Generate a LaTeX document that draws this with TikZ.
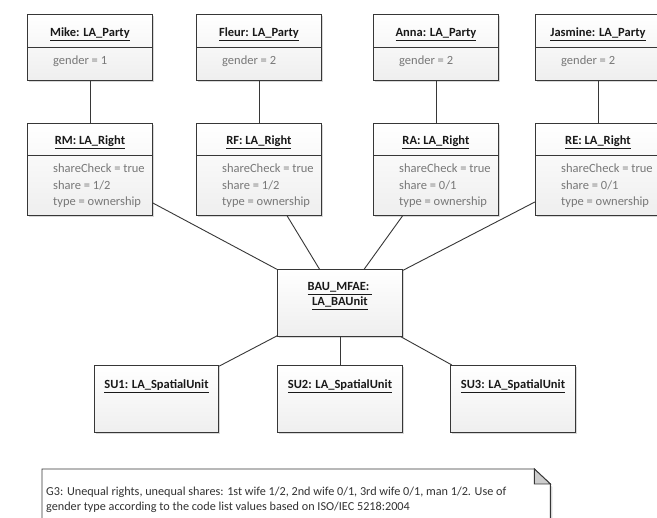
\documentclass[tikz,border=0pt]{standalone}
\usepackage{fontspec}
\setmainfont{Carlito}
\usetikzlibrary{shadows}
\definecolor{boxline}{RGB}{55,55,55}
\definecolor{attrgray}{RGB}{120,120,120}
\definecolor{titleink}{RGB}{25,25,25}
\definecolor{noteink}{RGB}{50,50,50}
\definecolor{foldgray}{RGB}{205,205,205}

\begin{document}
\begin{tikzpicture}[x=1pt,y=-1pt]
        % Define styles for boxes, texts and links
        \tikzstyle{objbox}=[rectangle, draw=boxline, line width=0.9pt, top color=white, bottom color=gray!13, drop shadow={opacity=0.3, shadow xshift=2pt, shadow yshift=-2pt}, minimum width=125pt, minimum height=66pt, anchor=north west, inner sep=0pt]
        \tikzstyle{rightbox}=[objbox, minimum height=92pt]
        \tikzstyle{title}=[font=\fontsize{12.5}{15}\selectfont\bfseries, text=titleink, inner sep=0pt, anchor=base]
        \tikzstyle{attr}=[font=\fontsize{12.5}{16.5}\selectfont, text=attrgray, align=left, inner sep=0pt, anchor=base west]
        \tikzstyle{link}=[draw=boxline, line width=0.9pt]

        \useasboundingbox (0,0) rectangle (657,518);
        \fill[white] (0,0) rectangle (657,518);
        \clip (0,0) rectangle (657,518);

        % Define parties
        \node[objbox] (mike) at (27,14) {};
        \node[objbox] (fleur) at (196,14) {};
        \node[objbox] (anna) at (373,14) {};
        \node[objbox] (jasmine) at (535,14) {};
        \foreach \p/\txt/\g in {mike/Mike/1, fleur/Fleur/2, anna/Anna/2, jasmine/Jasmine/2} {
          \node[title] (\p T) at ([yshift=-23pt]\p.north) {\underline{\txt: LA\_Party}};
          \draw[link] ([yshift=-33pt]\p.north west) -- ([yshift=-33pt]\p.north east);
          \node[attr] (\p A) at ([xshift=26pt,yshift=-51pt]\p.north west) {gender = \g};
        }

        % Define rights (base of the attribute node is its last line)
        \node[rightbox] (rm) at (27,123) {};
        \node[rightbox] (rf) at (196,123) {};
        \node[rightbox] (ra) at (373,123) {};
        \node[rightbox] (re) at (535,123) {};
        \foreach \r/\txt/\s in {rm/RM/1\slash 2, rf/RF/1\slash 2, ra/RA/0\slash 1, re/RE/0\slash 1} {
          \node[title] (\r T) at ([yshift=-22pt]\r.north) {\underline{\txt: LA\_Right}};
          \draw[link] ([yshift=-32pt]\r.north west) -- ([yshift=-32pt]\r.north east);
          \node[attr] (\r A) at ([xshift=26pt,yshift=-83pt]\r.north west) {shareCheck = true\\share = \s\\type = ownership};
        }

        % Define basic administrative unit and spatial units
        \node[objbox, minimum height=67pt] (bau) at (277,269) {};
        \node[title, align=center] (bauT) at ([yshift=-37pt]bau.north) {\underline{BAU\_MFAE: }\\\underline{LA\_BAUnit}};
        \node[objbox, minimum width=124pt, minimum height=67pt] (su1) at (94,365) {};
        \node[objbox, minimum height=67pt] (su2) at (277,365) {};
        \node[objbox, minimum height=67pt] (su3) at (450,365) {};
        \foreach \u/\txt in {su1/SU1, su2/SU2, su3/SU3}
          \node[title] (\u T) at ([yshift=-24pt]\u.north) {\underline{\txt: LA\_SpatialUnit}};

        % Draw links
        \draw[link] (mike) -- (rm);
        \draw[link] (fleur) -- (rf);
        \draw[link] (anna) -- (ra);
        \draw[link] (jasmine) -- (re);
        \draw[link] (rm) -- (bau);
        \draw[link] (rf) -- (bau);
        \draw[link] (ra) -- (bau);
        \draw[link] (re) -- (bau);
        \draw[link] (bau) -- (su1);
        \draw[link] (bau) -- (su2);
        \draw[link] (bau) -- (su3);

        % Note
        \node[minimum width=508pt, minimum height=62pt, anchor=north west, inner sep=0pt] (note) at (42,469) {};
        \fill[gray, opacity=0.3] ([xshift=2pt,yshift=-2pt]note.north west) -- ([xshift=-14pt,yshift=-2pt]note.north east) -- ([xshift=2pt,yshift=-18pt]note.north east) -- ([xshift=2pt,yshift=-2pt]note.south east) -- ([xshift=2pt,yshift=-2pt]note.south west) -- cycle;
        \draw[link, fill=white] (note.north west) -- ([xshift=-16pt]note.north east) -- ([yshift=-15pt]note.north east) -- (note.south east) -- (note.south west) -- cycle;
        \draw[link, fill=foldgray] ([xshift=-16pt]note.north east) -- ([xshift=-16pt,yshift=-15pt]note.north east) -- ([yshift=-15pt]note.north east) -- cycle;
        \node[font=\fontsize{12.2}{15}\selectfont, text=noteink, align=left, inner sep=0pt, anchor=base west] (noteT) at ([xshift=4pt,yshift=-42pt]note.north west) {G3: Unequal rights, unequal shares: 1st wife 1/2, 2nd wife 0/1, 3rd wife 0/1, man 1/2. Use of\\gender type according to the code list values based on ISO/IEC 5218:2004};
\end{tikzpicture}
\end{document}
